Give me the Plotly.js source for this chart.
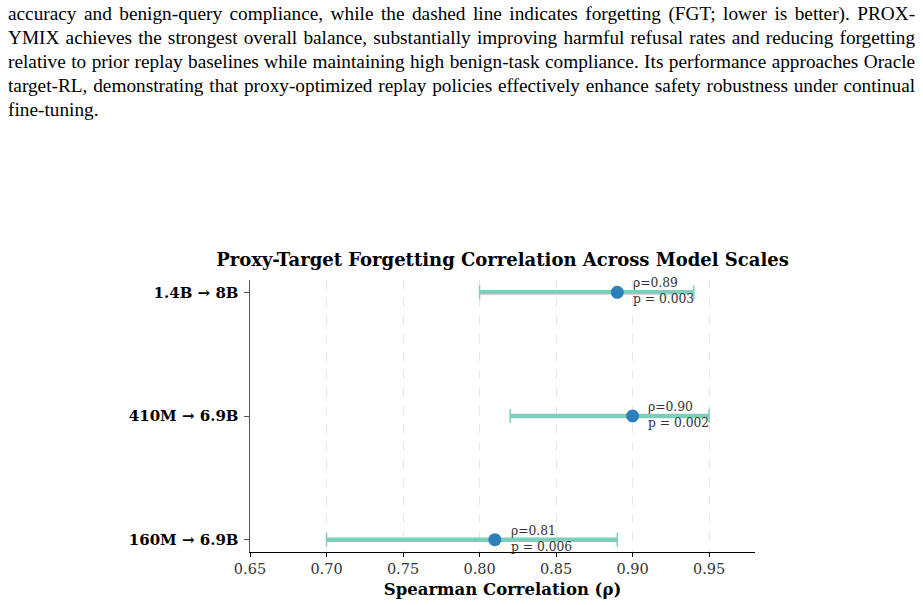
<!DOCTYPE html>
<html>
<head>
<meta charset="utf-8">
<script src="https://cdn.plot.ly/plotly-3.0.1.min.js"></script>
<style>
  html, body { margin: 0; padding: 0; background: #ffffff; width: 923px; height: 605px; overflow: hidden; }
  #chart { position: absolute; left: 0; top: 0; width: 923px; height: 605px; }
  #para { position: absolute; left: 8px; top: 2px; width: 847px; font-family: "Liberation Serif", "Times New Roman", serif;
          font-size: 18px; line-height: 24px; color: #000; z-index: 2;
          transform: scaleX(1.071); transform-origin: 0 0; }
  #para .ln { display: block; text-align: justify; text-align-last: justify; white-space: nowrap; }
  #para .ln.last { text-align-last: left; }
</style>
</head>
<body>
<div id="para">
  <span class="ln">accuracy and benign-query compliance, while the dashed line indicates forgetting (FGT; lower is better). PROX-</span>
  <span class="ln">YMIX achieves the strongest overall balance, substantially improving harmful refusal rates and reducing forgetting</span>
  <span class="ln">relative to prior replay baselines while maintaining high benign-task compliance. Its performance approaches Oracle</span>
  <span class="ln">target-RL, demonstrating that proxy-optimized replay policies effectively enhance safety robustness under continual</span>
  <span class="ln last">fine-tuning.</span>
</div>
<div id="chart"></div>
<script>
// ---- data (bottom to top) ----
const scales = ['160M \u2192 6.9B', '410M \u2192 6.9B', '1.4B \u2192 8B'];
const rho = [0.81, 0.90, 0.89];
const ciLow = [0.70, 0.82, 0.80];
const ciHigh = [0.89, 0.95, 0.94];
const pValues = ['0.006', '0.002', '0.003'];
const xTicks = [0.65, 0.70, 0.75, 0.80, 0.85, 0.90, 0.95];
const xTickLabels = ['0.65', '0.70', '0.75', '0.80', '0.85', '0.90', '0.95'];

const TEAL = '#7fcdbb';
const BLUE = '#2c7fb8';
const SERIF = '"DejaVu Serif", serif';

const traces = [];
// thick CI bars
scales.forEach((s, i) => {
  traces.push({
    type: 'scatter', mode: 'lines',
    x: [ciLow[i], ciHigh[i]], y: [s, s],
    line: { color: TEAL, width: 4.5 },
    hoverinfo: 'skip', showlegend: false
  });
});
// points with caps
traces.push({
  type: 'scatter', mode: 'markers',
  x: rho, y: scales,
  marker: { color: BLUE, size: 13, line: { width: 0 } },
  error_x: {
    type: 'data', symmetric: false,
    array: rho.map((r, i) => ciHigh[i] - r),
    arrayminus: rho.map((r, i) => r - ciLow[i]),
    color: TEAL, thickness: 1.5, width: 7
  },
  showlegend: false
});

const annotations = scales.map((s, i) => ({
  x: rho[i] + 0.009, y: s, xref: 'x', yref: 'y',
  xanchor: 'left', yanchor: 'middle', align: 'left', yshift: 1,
  text: '\u03c1=' + rho[i].toFixed(2) + '<br>p = ' + pValues[i],
  showarrow: false,
  font: { family: SERIF, size: 12.3, color: '#333333' }
}));

const layout = {
  width: 923, height: 605,
  margin: { l: 250, r: 168, t: 280, b: 53 },
  paper_bgcolor: 'rgba(0,0,0,0)',
  plot_bgcolor: '#ffffff',
  showlegend: false,
  title: {
    text: 'Proxy-Target Forgetting Correlation Across Model Scales',
    x: 0.5, xref: 'paper', xanchor: 'center',
    y: (605 - 260) / 605, yref: 'container', yanchor: 'middle',
    font: { family: SERIF, size: 18, color: '#000', weight: 'bold' }
  },
  xaxis: {
    range: [0.65, 0.98],
    tickmode: 'array', tickvals: xTicks, ticktext: xTickLabels,
    ticks: 'outside', ticklen: 4, tickwidth: 1, tickcolor: '#000',
    showline: true, linecolor: '#000', linewidth: 1,
    showgrid: true, gridcolor: '#e6e6e6', griddash: 'dash', gridwidth: 1,
    zeroline: false,
    tickfont: { family: SERIF, size: 14.5, color: '#333' },
    title: { text: 'Spearman Correlation (\u03c1)', standoff: 7,
             font: { family: SERIF, size: 16.5, color: '#000', weight: 'bold' } },
    automargin: false
  },
  yaxis: {
    type: 'category', categoryorder: 'array', categoryarray: scales,
    range: [-0.1, 2.1],
    ticks: 'outside', ticklen: 5, tickwidth: 1, tickcolor: '#555',
    showline: true, linecolor: '#555', linewidth: 1.5,
    showgrid: false, zeroline: false,
    tickfont: { family: SERIF, size: 15, color: '#000', weight: 'bold' },
    ticklabelstandoff: 2,
    automargin: false
  },
  annotations: annotations
};

Plotly.newPlot('chart', traces, layout, { displayModeBar: false, staticPlot: true });
</script>
</body>
</html>
